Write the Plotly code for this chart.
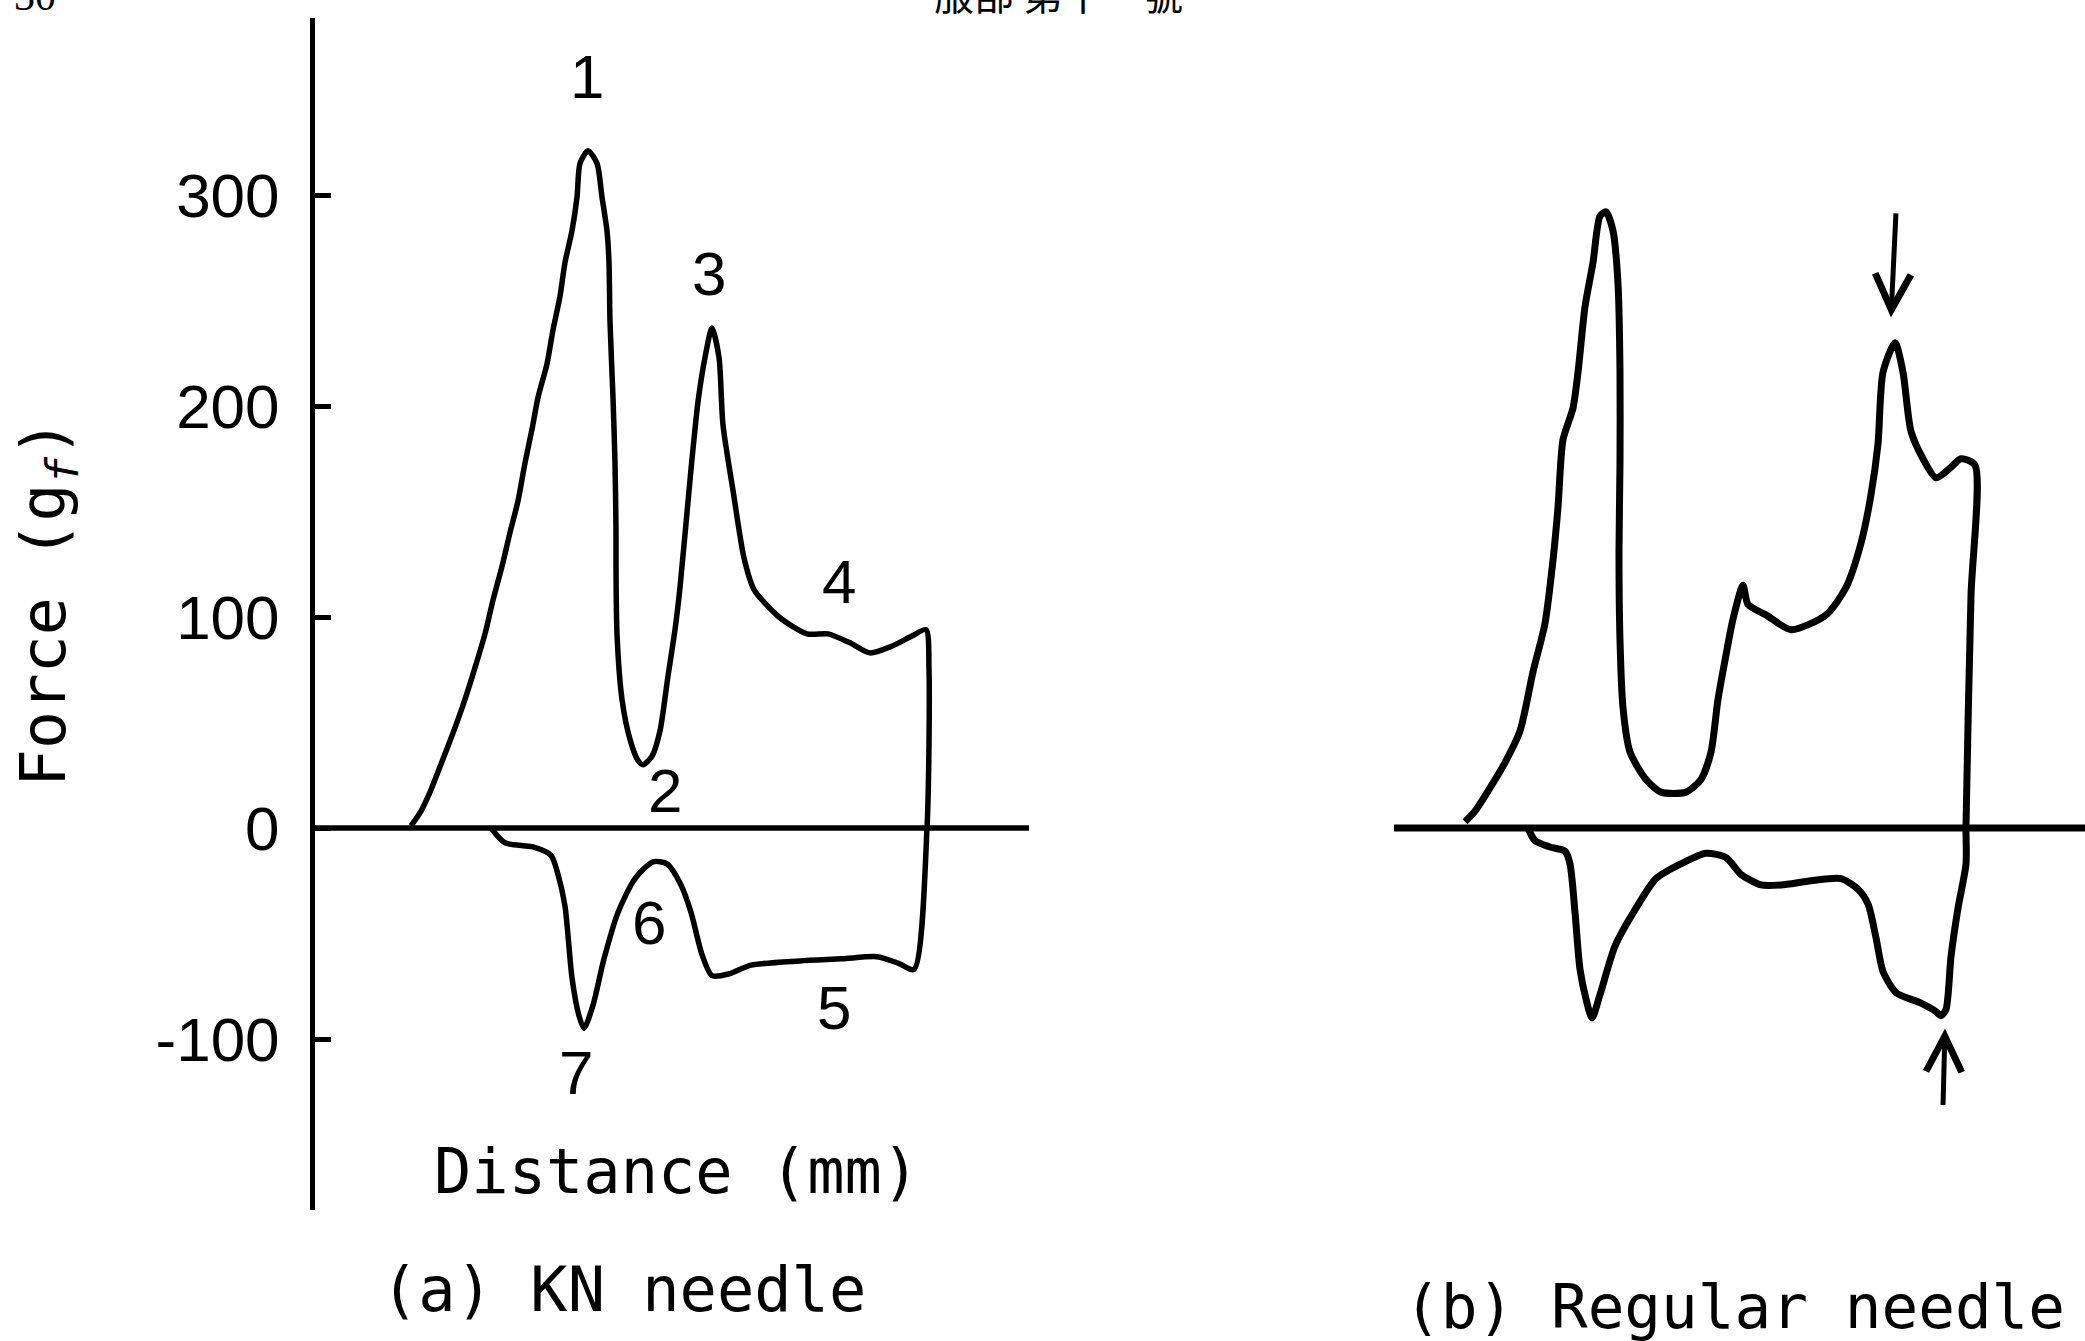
import plotly.graph_objects as go

# ---------------- data ----------------
# Panel (a) KN needle : upper trace (insertion), drawn left -> right
a_up_x = [9.6, 10.6, 11.5, 12.5, 13.8, 15.0, 16.0, 17.0, 17.8, 18.7, 19.5, 20.3, 21.0, 21.7,
          22.3, 23.2, 23.8, 24.5, 25.0, 25.7, 26.2, 26.5, 27.3, 28.2, 28.7, 29.2, 29.4, 29.5,
          29.8, 30.0, 30.1, 30.1, 30.2, 30.7, 31.5, 32.3, 32.8, 33.7, 34.5, 35.3, 36.0, 36.5,
          37.6, 38.3, 39.0, 39.7, 40.4, 40.8, 41.8, 42.9, 43.9, 46.4, 49.2, 51.3, 53.4, 55.5,
          57.6, 59.7, 61.1, 61.4, 61.2]
a_up_y = [1, 8, 17, 29, 45, 61, 76, 92, 108, 124, 140, 155, 173, 189,
          204, 220, 236, 252, 268, 283, 299, 315, 321, 315, 299, 283, 268, 240,
          204, 173, 141, 124, 92, 61, 42, 32, 30, 34, 46, 72, 94, 114,
          170, 202, 223, 237, 223, 191, 160, 128, 113, 100, 92, 92, 88, 83,
          86, 91, 94, 75, 0]
# Panel (a) lower trace (withdrawal), drawn right -> left
a_lo_x = [59.9, 58.3, 56.2, 52.7, 48.5, 43.6, 41.5, 39.7, 38.7, 37.6, 36.6, 35.2, 33.8, 32.0,
          30.3, 28.9, 27.8, 26.9, 26.4, 25.7, 25.0, 24.3, 23.6, 21.8, 19.0, 17.6]
a_lo_y = [-67, -64, -61, -62, -63, -65, -69, -70, -60, -40, -27, -17, -16, -24,
          -40, -62, -84, -95, -89, -71, -37, -22, -13, -9, -7, 0]

# Panel (b) Regular needle : upper trace
b_up_x = [7.1, 8.1, 9.6, 11.1, 12.6, 13.9, 15.1, 15.9, 16.4, 16.9, 17.9, 18.4, 19.1, 19.9,
          20.6, 21.2, 21.9, 22.4, 22.6, 22.6, 22.5, 22.6, 22.9, 23.6, 25.2, 26.7, 29.2, 30.7,
          31.7, 32.4, 33.2, 33.9, 34.9, 35.4, 37.2, 39.7, 43.2, 45.2, 46.7, 47.7, 48.4, 48.9,
          50.1, 50.9, 51.7, 52.9, 54.2, 55.7, 56.7, 58.1, 57.7, 57.2]
b_up_y = [3, 8, 19, 31, 46, 74, 97, 127, 152, 184, 199, 216, 247, 268,
          290, 292, 283, 258, 216, 173, 131, 89, 57, 36, 23, 17, 17, 23,
          36, 61, 82, 99, 115, 106, 101, 94, 101, 114, 135, 158, 182, 216,
          230, 216, 188, 175, 166, 171, 175, 172, 110, 1]
# Panel (b) lower trace, right -> left
b_lo_x = [57.2, 56.4, 55.7, 55.2, 54.7, 54.2, 52.7, 50.2, 48.9, 48.2, 47.4, 46.4, 44.7, 41.7,
          38.7, 36.7, 34.7, 33.2, 31.2, 28.7, 26.2, 24.2, 22.1, 20.6, 19.8, 19.2, 18.6, 18.1,
          17.6, 17.1, 15.6, 14.1, 13.4]
b_lo_y = [-17, -38, -61, -86, -89, -87, -83, -78, -68, -52, -36, -29, -24, -25,
          -27, -27, -22, -14, -12, -17, -24, -38, -56, -79, -90, -81, -67, -40,
          -17, -11, -9, -6, 0]

# y-axis ticks
y_tickvals = [-100, 0, 100, 200, 300]
y_ticktext = ["-100", "0", "100", "200", "300"]

# numbered points of panel (a) (label, x, y in data units)
num_labels = ["1", "2", "3", "4", "5", "6", "7"]
num_x = [27.2, 35.0, 39.4, 52.4, 51.9, 33.4, 26.1]
num_y = [356, 18, 263, 117, -85, -45, -116]

# arrows in panel (b): tip and tail (data units)
arrow_tip_x = [49.7, 55.1]
arrow_tip_y = [242, -95]
arrow_tail_x = [50.2, 54.9]
arrow_tail_y = [292, -132]

# extents of the zero lines
a_zero_end = 71.4
b_zero_end = 69.1

# ---------------- figure ----------------
W, H = 2085, 1341
fig = go.Figure()

line_a = dict(color="black", width=5.5, shape="spline", smoothing=0.7)
line_b = dict(color="black", width=7, shape="spline", smoothing=0.7)

fig.add_trace(go.Scatter(x=[0, a_zero_end], y=[0, 0], mode="lines",
                         line=dict(color="black", width=5.5), xaxis="x", yaxis="y"))
fig.add_trace(go.Scatter(x=a_up_x + a_lo_x, y=a_up_y + a_lo_y, mode="lines",
                         line=line_a, xaxis="x", yaxis="y"))

fig.add_trace(go.Scatter(x=[0, b_zero_end], y=[0, 0], mode="lines",
                         line=dict(color="black", width=7), xaxis="x2", yaxis="y"))
fig.add_trace(go.Scatter(x=b_up_x + b_lo_x, y=b_up_y + b_lo_y, mode="lines",
                         line=line_b, xaxis="x2", yaxis="y"))

def px_x(p):
    return p / W

def px_y(p):
    return 1 - p / H

annotations = []
num_font = dict(family="Liberation Sans", size=62, color="black")
for t, x, y in zip(num_labels, num_x, num_y):
    annotations.append(dict(x=x, y=y, xref="x", yref="y", text=t, showarrow=False,
                            font=num_font, xanchor="center", yanchor="middle"))

for tx, ty, sx, sy in zip(arrow_tip_x, arrow_tip_y, arrow_tail_x, arrow_tail_y):
    annotations.append(dict(x=tx, y=ty, xref="x2", yref="y", ax=sx, ay=sy,
                            axref="x2", ayref="y", text="", showarrow=True,
                            arrowhead=5, arrowsize=1.4, arrowwidth=5,
                            arrowcolor="black", standoff=0, startstandoff=0))

mono = "DejaVu Sans Mono"
annotations += [
    dict(x=px_x(676), y=px_y(1171), xref="paper", yref="paper", text="Distance (mm)",
         showarrow=False, font=dict(family=mono, size=62, color="black"),
         xanchor="center", yanchor="middle"),
    dict(x=px_x(623), y=px_y(1289), xref="paper", yref="paper", text="(a) KN needle",
         showarrow=False, font=dict(family=mono, size=62, color="black"),
         xanchor="center", yanchor="middle"),
    dict(x=px_x(2066), y=px_y(1306), xref="paper", yref="paper", text="(b) Regular needle",
         showarrow=False, font=dict(family=mono, size=61, color="black"),
         xanchor="right", yanchor="middle", borderpad=0),
    dict(x=px_x(47), y=px_y(603), xref="paper", yref="paper",
         text="Force (g<sub><i>f</i></sub>)", textangle=-90,
         showarrow=False, font=dict(family=mono, size=63, color="black"),
         xanchor="center", yanchor="middle"),
    dict(x=px_x(12), y=px_y(21), xref="paper", yref="paper", text="30",
         showarrow=False, font=dict(family="Liberation Serif", size=42, color="black"),
         xanchor="left", yanchor="bottom"),
    dict(x=px_x(1058), y=px_y(24), xref="paper", yref="paper", text="服部 第十一號",
         showarrow=False, font=dict(family="Noto Sans CJK TC", size=40, color="black"),
         xanchor="center", yanchor="bottom"),
]

y_top_px, y_bot_px, zero_px, per100 = 18, 1210, 828, 211.0
y_max = (zero_px - y_top_px) / per100 * 100
y_min = -(y_bot_px - zero_px) / per100 * 100

fig.update_layout(
    width=W, height=H,
    margin=dict(l=0, r=0, t=0, b=0),
    paper_bgcolor="white", plot_bgcolor="white",
    showlegend=False,
    xaxis=dict(domain=[px_x(315), px_x(1031)], range=[0, 71.6], visible=False,
               anchor="y", fixedrange=True),
    xaxis2=dict(domain=[px_x(1394), 1.0], range=[0, 69.1], visible=False,
                anchor="y", fixedrange=True),
    yaxis=dict(domain=[px_y(y_bot_px), px_y(y_top_px)], range=[y_min, y_max],
               anchor="x", showline=True, linewidth=5, linecolor="black",
               ticks="inside", ticklen=16, tickwidth=5, tickcolor="black",
               tickvals=y_tickvals, ticktext=y_ticktext,
               tickfont=dict(family="Liberation Sans", size=62, color="black"),
               ticklabelstandoff=18,
               showgrid=False, zeroline=False, fixedrange=True),
    annotations=annotations,
)

fig.write_html("out.html")
